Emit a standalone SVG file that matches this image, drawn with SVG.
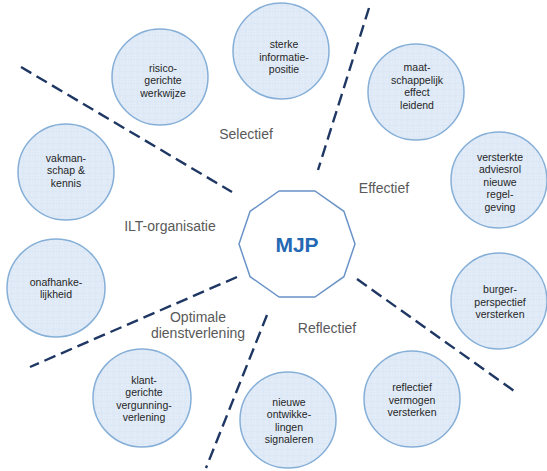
<svg xmlns="http://www.w3.org/2000/svg" width="547" height="471" viewBox="0 0 547 471">
<defs>
<pattern id="dots" width="6" height="6" patternUnits="userSpaceOnUse">
<rect width="6" height="6" fill="#dce8f5"/>
<rect x="1" y="1" width="3" height="3" fill="none" stroke="#e9f1fa" stroke-width="0.8"/>
</pattern>
</defs>
<style>
.c{fill:url(#dots);stroke:#86afd8;stroke-width:1.5}
.t{font-family:"Liberation Sans",Arial,sans-serif;font-size:10.5px;fill:#262626;text-anchor:middle}
.l{font-family:"Liberation Sans",Arial,sans-serif;font-size:14px;fill:#595959;text-anchor:middle}
.d{stroke:#1f3763;stroke-width:2.4;stroke-dasharray:12 6;fill:none}
</style>
<rect width="547" height="471" fill="#ffffff"/>
<g id="connectors">
<line class="d" x1="21" y1="67" x2="232" y2="192"/>
<line class="d" x1="369" y1="8" x2="318" y2="170"/>
<line class="d" x1="357" y1="279" x2="517" y2="393"/>
<line class="d" x1="267" y1="315" x2="206" y2="468"/>
<line class="d" x1="237" y1="277" x2="30" y2="367"/>
</g>
<g id="mjp">
<polygon points="355,244 343.9,211.3 314.9,191 279.1,191 250.1,211.3 239,244 250.1,276.7 279.1,297 314.9,297 343.9,276.7" fill="#ffffff" stroke="#6a93c8" stroke-width="1.5"/>
<text x="297" y="252" font-family="Liberation Sans,Arial,sans-serif" font-size="21" font-weight="bold" fill="#2469b3" text-anchor="middle">MJP</text>
</g>
<g id="label-selectief"><text class="l" x="246" y="139">Selectief</text></g>
<g id="label-effectief"><text class="l" x="384" y="193">Effectief</text></g>
<g id="label-ilt"><text class="l" x="170" y="231">ILT-organisatie</text></g>
<g id="label-optimale"><text class="l" x="198" y="322">Optimale</text><text class="l" x="198" y="338">dienstverlening</text></g>
<g id="label-reflectief"><text class="l" x="327" y="333">Reflectief</text></g>
<g id="n-risico"><circle class="c" cx="160" cy="77" r="48"/>
<text class="t" x="163" y="71.5">risico-</text><text class="t" x="163" y="84">gerichte</text><text class="t" x="163" y="96.5">werkwijze</text></g>
<g id="n-sterke"><circle class="c" cx="281" cy="51" r="48"/>
<text class="t" x="284" y="48">sterke</text><text class="t" x="284" y="60.5">informatie-</text><text class="t" x="284" y="73">positie</text></g>
<g id="n-maat"><circle class="c" cx="416" cy="92" r="48"/>
<text class="t" x="417" y="71">maat-</text><text class="t" x="417" y="83.5">schappelijk</text><text class="t" x="417" y="96">effect</text><text class="t" x="417" y="108.5">leidend</text></g>
<g id="n-versterkte"><circle class="c" cx="499" cy="180" r="48"/>
<text class="t" x="500" y="160.5">versterkte</text><text class="t" x="500" y="173">adviesrol</text><text class="t" x="500" y="185.5">nieuwe</text><text class="t" x="500" y="198">regel-</text><text class="t" x="500" y="210.5">geving</text></g>
<g id="n-burger"><circle class="c" cx="499" cy="301" r="48"/>
<text class="t" x="500" y="293">burger-</text><text class="t" x="500" y="305.5">perspectief</text><text class="t" x="500" y="318">versterken</text></g>
<g id="n-reflectief"><circle class="c" cx="412" cy="399" r="48"/>
<text class="t" x="412" y="391">reflectief</text><text class="t" x="412" y="403.5">vermogen</text><text class="t" x="412" y="416">versterken</text></g>
<g id="n-nieuwe"><circle class="c" cx="288" cy="420" r="48"/>
<text class="t" x="289" y="405.5">nieuwe</text><text class="t" x="289" y="418">ontwikke-</text><text class="t" x="289" y="430.5">lingen</text><text class="t" x="289" y="443">signaleren</text></g>
<g id="n-klant"><circle class="c" cx="142" cy="398" r="49"/>
<text class="t" x="144" y="383.5">klant-</text><text class="t" x="144" y="396">gerichte</text><text class="t" x="144" y="408.5">vergunning-</text><text class="t" x="144" y="421">verlening</text></g>
<g id="n-onafhanke"><circle class="c" cx="56" cy="288" r="49"/>
<text class="t" x="56" y="285.5">onafhanke-</text><text class="t" x="56" y="298">lijkheid</text></g>
<g id="n-vakman"><circle class="c" cx="66" cy="172" r="48"/>
<text class="t" x="66" y="161.5">vakman-</text><text class="t" x="66" y="174">schap &amp;</text><text class="t" x="66" y="186.5">kennis</text></g>
</svg>
